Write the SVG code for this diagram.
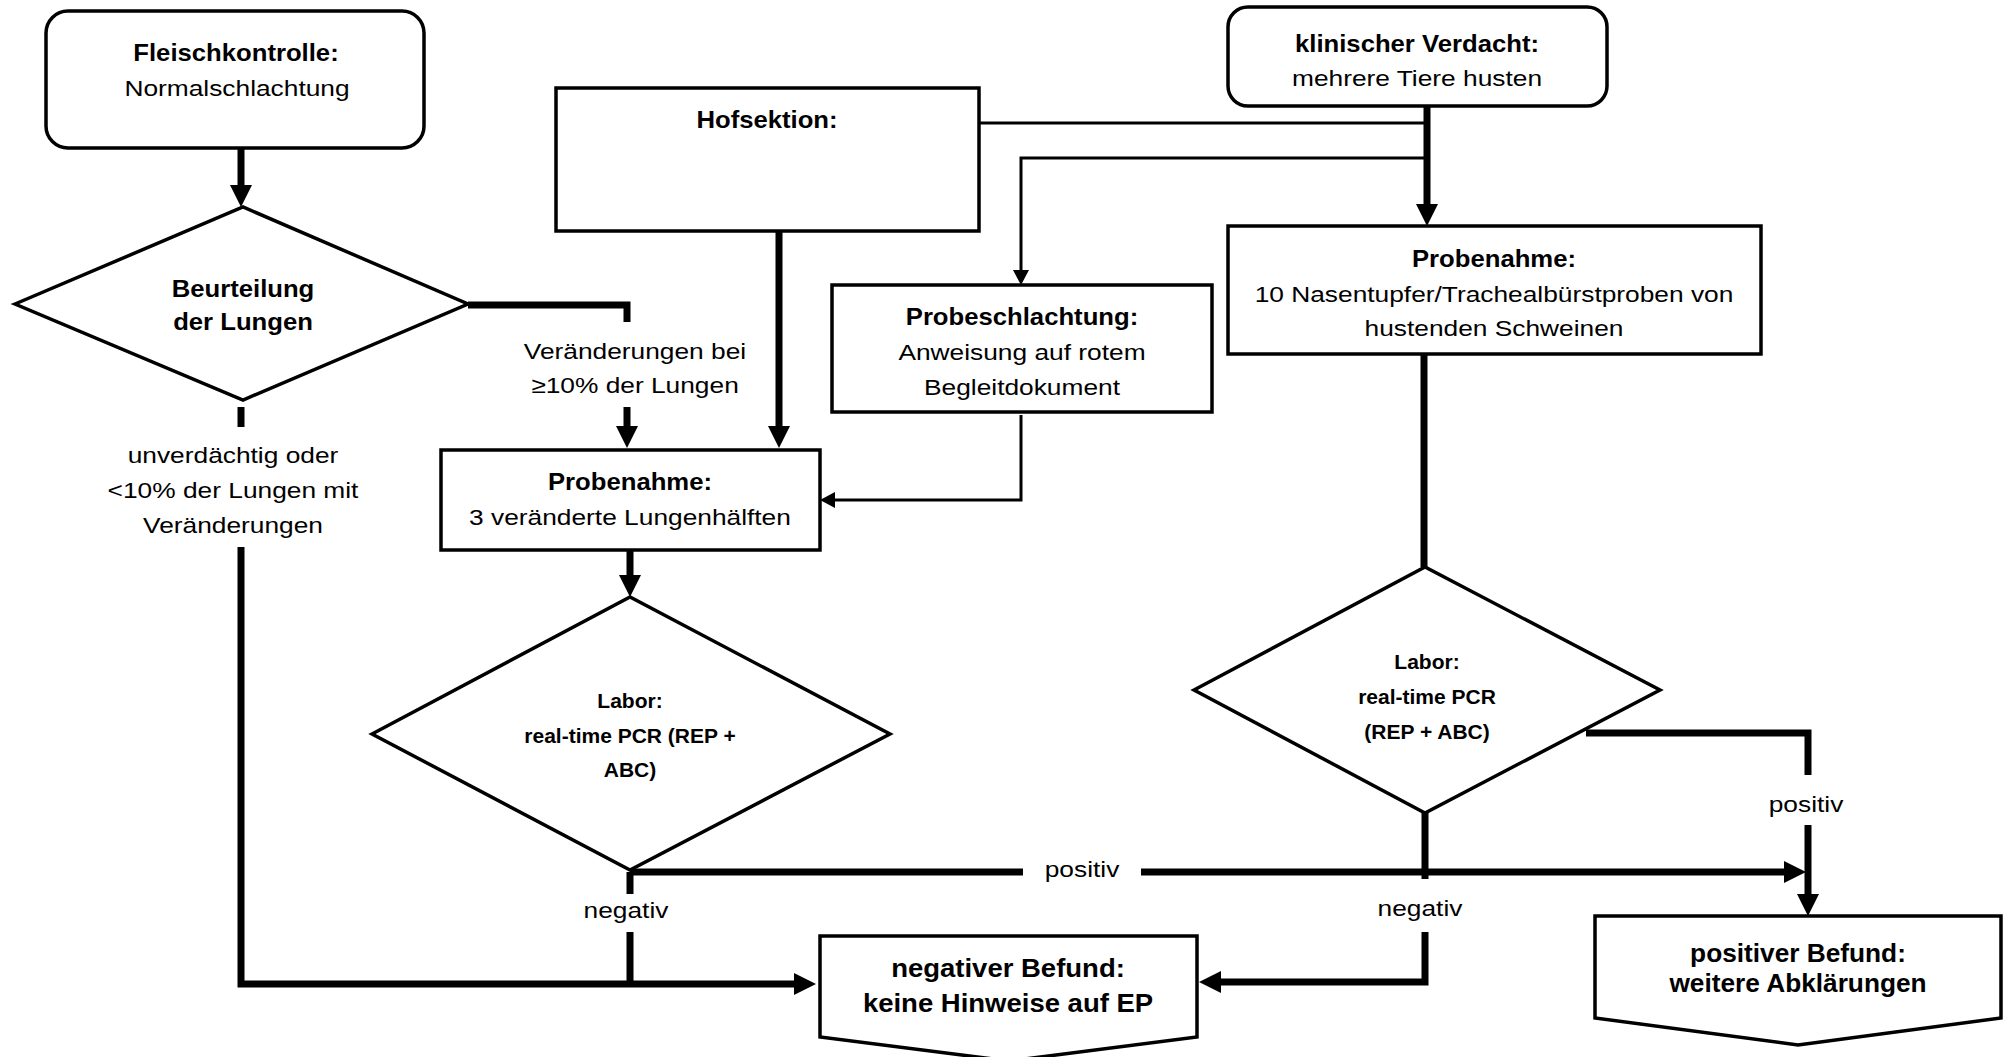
<svg xmlns="http://www.w3.org/2000/svg" width="2009" height="1057" viewBox="0 0 2009 1057">
<style>
.box{fill:#fff;stroke:#000;stroke-width:3.5}
.thick{fill:none;stroke:#000;stroke-width:7}
.thin{fill:none;stroke:#000;stroke-width:3}
text{font-family:"Liberation Sans",Arial,sans-serif;text-anchor:middle;fill:#000}
.b{font-weight:bold;font-size:24px}
.bl{font-weight:bold;font-size:25px}
.r{font-size:22.5px}
.s{font-weight:bold;font-size:21px}
</style>
<defs>
<marker id="ah" markerUnits="userSpaceOnUse" viewBox="0 0 22 22" refX="2" refY="11" markerWidth="22" markerHeight="22" orient="auto">
<path d="M0,0 L22,11 L0,22 z" fill="#000"/>
</marker>
<marker id="at" markerUnits="userSpaceOnUse" viewBox="0 0 15 16" refX="2" refY="8" markerWidth="15" markerHeight="16" orient="auto">
<path d="M0,0 L15,8 L0,16 z" fill="#000"/>
</marker>
</defs>
<rect width="2009" height="1057" fill="#fff"/>

<g id="connectors">
<path class="thick" d="M241,148 V187" marker-end="url(#ah)"/>
<path class="thick" d="M468,305 H627 V322"/>
<path class="thick" d="M627,407 V428" marker-end="url(#ah)"/>
<path class="thick" d="M241,407 V427"/>
<path class="thick" d="M241,547 V984 H796" marker-end="url(#ah)"/>
<path class="thick" d="M779,231 V428" marker-end="url(#ah)"/>
<path class="thin" d="M979,123 H1427"/>
<path class="thin" d="M1427,158 H1021 V272" marker-end="url(#at)"/>
<path class="thick" d="M1427,106 V206" marker-end="url(#ah)"/>
<path class="thin" d="M1021,415 V500 H833" marker-end="url(#at)"/>
<path class="thick" d="M630,550 V577" marker-end="url(#ah)"/>
<path class="thick" d="M630,872 H1023"/>
<path class="thick" d="M1141,872 H1786" marker-end="url(#ah)"/>
<path class="thick" d="M630,872 V894"/>
<path class="thick" d="M630,932 V984"/>
<path class="thick" d="M1424,354 V567"/>
<path class="thick" d="M1586,733 H1808 V775"/>
<path class="thick" d="M1808,825 V896" marker-end="url(#ah)"/>
<path class="thick" d="M1425,813 V879"/>
<path class="thick" d="M1425,932 V982 H1219" marker-end="url(#ah)"/>
</g>

<g id="edge-labels">
<text class="r" transform="translate(635,359) scale(1.17,1)">Veränderungen bei</text>
<text class="r" transform="translate(635,393) scale(1.17,1)">≥10% der Lungen</text>
<text class="r" transform="translate(233,463) scale(1.17,1)">unverdächtig oder</text>
<text class="r" transform="translate(233,498) scale(1.17,1)">&lt;10% der Lungen mit</text>
<text class="r" transform="translate(233,533) scale(1.17,1)">Veränderungen</text>
<text class="r" transform="translate(1082,877) scale(1.17,1)">positiv</text>
<text class="r" transform="translate(626,918) scale(1.17,1)">negativ</text>
<text class="r" transform="translate(1420,916) scale(1.17,1)">negativ</text>
<text class="r" transform="translate(1806,812) scale(1.17,1)">positiv</text>
</g>

<g id="fleischkontrolle">
<rect class="box" x="46" y="11" width="378" height="137" rx="22"/>
<text class="b" transform="translate(236,61) scale(1.07,1)">Fleischkontrolle:</text>
<text class="r" transform="translate(237,96) scale(1.17,1)">Normalschlachtung</text>
</g>

<g id="beurteilung">
<polygon class="box" points="15,304 243,207 468,304 243,400"/>
<text class="b" transform="translate(243,297) scale(1.07,1)">Beurteilung</text>
<text class="b" transform="translate(243,330) scale(1.07,1)">der Lungen</text>
</g>

<g id="hofsektion">
<rect class="box" x="556" y="88" width="423" height="143"/>
<text class="b" transform="translate(767,128) scale(1.07,1)">Hofsektion:</text>
</g>

<g id="klinischer-verdacht">
<rect class="box" x="1228" y="7" width="379" height="99" rx="20"/>
<text class="b" transform="translate(1417,52) scale(1.07,1)">klinischer Verdacht:</text>
<text class="r" transform="translate(1417,86) scale(1.17,1)">mehrere Tiere husten</text>
</g>

<g id="probeschlachtung">
<rect class="box" x="832" y="285" width="380" height="127"/>
<text class="b" transform="translate(1022,325) scale(1.07,1)">Probeschlachtung:</text>
<text class="r" transform="translate(1022,360) scale(1.17,1)">Anweisung auf rotem</text>
<text class="r" transform="translate(1022,395) scale(1.17,1)">Begleitdokument</text>
</g>

<g id="probenahme-rechts">
<rect class="box" x="1228" y="226" width="533" height="128"/>
<text class="b" transform="translate(1494,267) scale(1.07,1)">Probenahme:</text>
<text class="r" transform="translate(1494,302) scale(1.17,1)">10 Nasentupfer/Trachealbürstproben von</text>
<text class="r" transform="translate(1494,336) scale(1.17,1)">hustenden Schweinen</text>
</g>

<g id="probenahme-links">
<rect class="box" x="441" y="450" width="379" height="100"/>
<text class="b" transform="translate(630,490) scale(1.07,1)">Probenahme:</text>
<text class="r" transform="translate(630,525) scale(1.17,1)">3 veränderte Lungenhälften</text>
</g>

<g id="labor-links">
<polygon class="box" points="372,734 630,597 890,734 630,870"/>
<text class="s" x="630" y="708">Labor:</text>
<text class="s" x="630" y="743">real-time PCR (REP +</text>
<text class="s" x="630" y="777">ABC)</text>
</g>

<g id="labor-rechts">
<polygon class="box" points="1194,690 1425,567 1660,690 1425,813"/>
<text class="s" x="1427" y="669">Labor:</text>
<text class="s" x="1427" y="704">real-time PCR</text>
<text class="s" x="1427" y="739">(REP + ABC)</text>
</g>

<g id="negativer-befund">
<polygon class="box" points="820,936 1197,936 1197,1037 1009,1061 820,1037"/>
<text class="bl" transform="translate(1008,977) scale(1.1,1)">negativer Befund:</text>
<text class="bl" transform="translate(1008,1012) scale(1.1,1)">keine Hinweise auf EP</text>
</g>

<g id="positiver-befund">
<polygon class="box" points="1595,916 2001,916 2001,1018 1798,1045 1595,1018"/>
<text class="bl" transform="translate(1798,962) scale(1.05,1)">positiver Befund:</text>
<text class="bl" transform="translate(1798,992) scale(1.05,1)">weitere Abklärungen</text>
</g>
</svg>
